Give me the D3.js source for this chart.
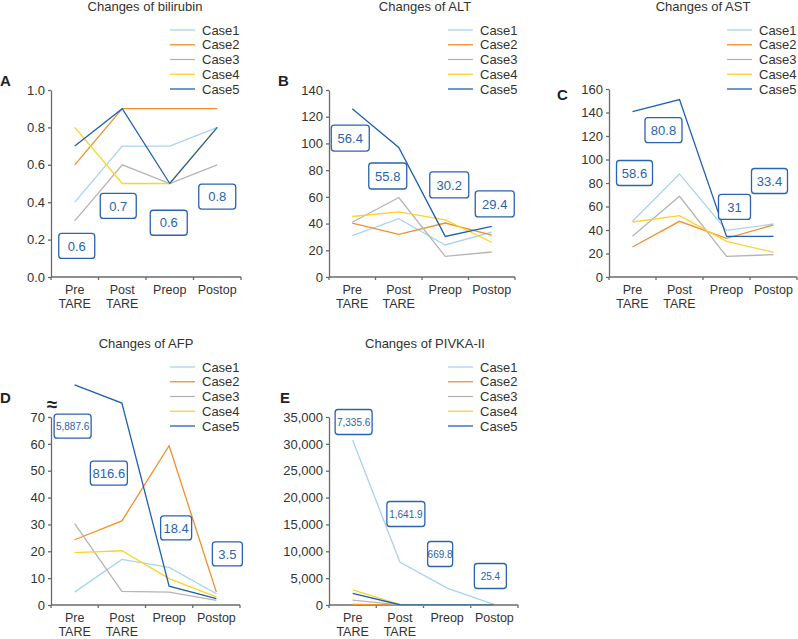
<!DOCTYPE html>
<html>
<head>
<meta charset="utf-8">
<title>Changes after TARE</title>
<style>
  body{margin:0;background:#fff;}
  svg{display:block;font-family:Arial,"Liberation Sans",sans-serif;}
</style>
</head>
<body>
<svg id="chart" width="798" height="639"></svg>
<script src="https://cdn.jsdelivr.net/npm/d3@7"></script>
<script>
// categories
var stages = ["Pre TARE", "Post TARE", "Preop", "Postop"];
var stageLines = [["Pre", "TARE"], ["Post", "TARE"], ["Preop"], ["Postop"]];
var cases = ["Case1", "Case2", "Case3", "Case4", "Case5"];

// series values, one row per case
var bilirubin = [[0.4, 0.7, 0.7, 0.8], [0.6, 0.9, 0.9, 0.9], [0.3, 0.6, 0.5, 0.6], [0.8, 0.5, 0.5, 0.8], [0.7, 0.9, 0.5, 0.8]];
var alt = [[31, 43.6, 24, 33.6], [40.4, 32, 40.4, 31.4], [41, 59.5, 15.4, 18.7], [45.3, 48.8, 42.8, 26], [126, 97, 30.4, 37.9]];
var ast = [[47.4, 87.7, 39.7, 45.1], [25.5, 47.4, 32.9, 44.3], [34.6, 68.7, 17.6, 19], [46.8, 52.2, 30.4, 21], [140.7, 151, 34.6, 34.6]];
// case5 AFP sits above the axis break
var afp = [[4.8, 17, 14, 4.2], [24.3, 31.3, 59.3, 4.8], [30.3, 5.1, 4.8, 1.7], [19.5, 20.2, 9.8, 3], [82, 75.2, 7, 2.4]];
var pivka = [[30700, 8000, 3150, 60], [130, 20, 15, 10], [900, 40, 20, 15], [2800, 60, 30, 20], [2150, 50, 25, 20]];

// mean labels and the value they sit at
var bilirubinMean = ["0.6", "0.7", "0.6", "0.8"];
var bilirubinMeanAt = [0.166, 0.38, 0.29, 0.43];
var altMean = ["56.4", "55.8", "30.2", "29.4"];
var altMeanAt = [104, 75.6, 68.9, 54.7];
var astMean = ["58.6", "80.8", "31", "33.4"];
var astMeanAt = [88.5, 125, 59.6, 81.7];
var afpMean = ["5,887.6", "816.6", "18.4", "3.5"];
var afpMeanAt = [66.6, 49.1, 28.7, 19];
var pivkaMean = ["7,335.6", "1,641.9", "669.8", "25.4"];
var pivkaMeanAt = [34069, 16941, 9495, 5399];

// tick labels
var biliTicks = [0, 0.2, 0.4, 0.6, 0.8, 1.0];
var altTicks = [0, 20, 40, 60, 80, 100, 120, 140];
var astTicks = [0, 20, 40, 60, 80, 100, 120, 140, 160];
var afpTicks = [0, 10, 20, 30, 40, 50, 60, 70];
var pivkaTicks = [0, 5000, 10000, 15000, 20000, 25000, 30000, 35000];

var colors = ["#a8d3f0", "#f28f2c", "#b4b4b4", "#fdd22a", "#2160b0"];
var boxBlue = "#2a63b0";
var axisCol = "#6a6a6a";
var textCol = "#333";

var svg = d3.select("#chart");

function panel(c){
  var g = svg.append("g");
  var x = d3.scaleBand().domain(stages).range([c.x0, c.x1]);
  var y = d3.scaleLinear().domain([0, d3.max(c.ticks)]).range([c.yBot, c.yTop]);
  var cx = function(i){ return x(stages[i]) + x.bandwidth() / 2; };

  // y axis
  var ay = g.append("g")
    .attr("transform", "translate(" + c.x0 + ",0)")
    .call(d3.axisLeft(y).tickValues(c.ticks).tickFormat(c.fmt).tickSize(3).tickSizeOuter(0).tickPadding(3));
  ay.select(".domain").attr("stroke", axisCol).attr("stroke-width", 1.3);
  ay.selectAll(".tick line").attr("stroke", axisCol).attr("stroke-width", 1.3);
  ay.selectAll(".tick text").attr("fill", textCol).style("font-size", "13px").style("font-family", "Arial,'Liberation Sans',sans-serif");

  // x axis: ticks at band edges, labels in the middle
  g.append("line").attr("x1", c.x0).attr("x2", c.x1).attr("y1", c.yBot).attr("y2", c.yBot)
    .attr("stroke", axisCol).attr("stroke-width", 1.3);
  var edges = stages.map(function(d){ return x(d); }).concat([c.x1]);
  g.selectAll(".xt").data(edges).enter().append("line")
    .attr("x1", function(d){ return d; }).attr("x2", function(d){ return d; })
    .attr("y1", c.yBot).attr("y2", c.yBot + 3)
    .attr("stroke", axisCol).attr("stroke-width", 1.3);
  stageLines.forEach(function(ls, i){
    ls.forEach(function(s, k){
      g.append("text").attr("x", cx(i)).attr("y", c.yBot + 16.5 + k * 14.5)
        .attr("text-anchor", "middle").attr("fill", textCol).style("font-size", "12.5px").text(s);
    });
  });

  if(c.brk){
    g.append("text").attr("x", c.x0 + 1).attr("y", c.yTop - 6).attr("text-anchor", "middle")
      .attr("fill", "#222").style("font-size", "19px").style("font-weight", "bold").text("\u2248");
  }

  // case lines
  var line = d3.line().x(function(v, i){ return cx(i); }).y(function(v){ return y(v); });
  c.data.forEach(function(s, k){
    g.append("path").attr("d", line(s)).attr("fill", "none")
      .attr("stroke", colors[k]).attr("stroke-width", 1.3);
  });

  // mean boxes
  c.mean.forEach(function(m, i){
    var w = c.boxW[i], h = c.boxH;
    var bx = cx(i) + c.boxDx[i], by = y(c.meanAt[i]);
    g.append("rect").attr("x", bx - w / 2).attr("y", by - h / 2).attr("width", w).attr("height", h)
      .attr("rx", 3).attr("fill", "#fff").attr("stroke", boxBlue).attr("stroke-width", 1.3);
    g.append("text").attr("x", bx).attr("y", by).attr("dy", "0.36em").attr("text-anchor", "middle")
      .attr("fill", boxBlue).style("font-size", c.boxFont[i] + "px").text(m);
  });

  // legend
  cases.forEach(function(name, k){
    var ly = c.legY + k * 14.75;
    g.append("line").attr("x1", c.legX).attr("x2", c.legX + 25).attr("y1", ly).attr("y2", ly)
      .attr("stroke", colors[k]).attr("stroke-width", 1.3);
    g.append("text").attr("x", c.legX + 32).attr("y", ly).attr("dy", "0.36em")
      .attr("fill", textCol).style("font-size", "13px").text(name);
  });

  // title and panel letter
  g.append("text").attr("x", c.titleX).attr("y", c.titleY).attr("text-anchor", "middle")
    .attr("fill", textCol).style("font-size", "13px").text(c.title);
  g.append("text").attr("x", c.letterX).attr("y", c.letterY)
    .attr("fill", "#222").style("font-size", "15px").style("font-weight", "bold").text(c.letter);
}

var big = [13, 13, 13, 13];

panel({ data: bilirubin, mean: bilirubinMean, meanAt: bilirubinMeanAt, ticks: biliTicks, fmt: d3.format(".1f"),
  x0: 51, x1: 241, yTop: 90, yBot: 277, title: "Changes of bilirubin", titleX: 145, titleY: 11,
  legX: 170, legY: 30, letter: "A", letterX: 0, letterY: 86,
  boxW: [36, 36, 37, 37], boxH: 25, boxDx: [2, -4, -1, 0], boxFont: big });

panel({ data: alt, mean: altMean, meanAt: altMeanAt, ticks: altTicks, fmt: d3.format("d"),
  x0: 329, x1: 515, yTop: 90, yBot: 277, title: "Changes of ALT", titleX: 425, titleY: 11,
  legX: 448, legY: 30, letter: "B", letterX: 278, letterY: 86,
  boxW: [38, 38, 39, 39], boxH: 26, boxDx: [-2, -11, 4, 3], boxFont: big });

panel({ data: ast, mean: astMean, meanAt: astMeanAt, ticks: astTicks, fmt: d3.format("d"),
  x0: 609, x1: 797, yTop: 89, yBot: 277, title: "Changes of AST", titleX: 703, titleY: 11,
  legX: 727, legY: 30, letter: "C", letterX: 557, letterY: 100,
  boxW: [36, 37, 32, 36], boxH: 25, boxDx: [2, -16, 8, -4], boxFont: big });

panel({ data: afp, mean: afpMean, meanAt: afpMeanAt, ticks: afpTicks, fmt: d3.format("d"), brk: true,
  x0: 51, x1: 240, yTop: 417, yBot: 605, title: "Changes of AFP", titleX: 146, titleY: 348,
  legX: 170, legY: 367, letter: "D", letterX: 0, letterY: 403,
  boxW: [37, 37, 31, 30], boxH: 24, boxDx: [-2, -13, 7, 11], boxFont: [10, 13, 13, 13] });

panel({ data: pivka, mean: pivkaMean, meanAt: pivkaMeanAt, ticks: pivkaTicks, fmt: d3.format(","),
  x0: 329, x1: 518, yTop: 417, yBot: 605, title: "Changes of PIVKA-II", titleX: 425, titleY: 348,
  legX: 448, legY: 367, letter: "E", letterX: 280, letterY: 403,
  boxW: [37, 38, 25, 32], boxH: 25, boxDx: [1, 6, -7, -4], boxFont: [10, 10, 10, 10] });
</script>
</body>
</html>
